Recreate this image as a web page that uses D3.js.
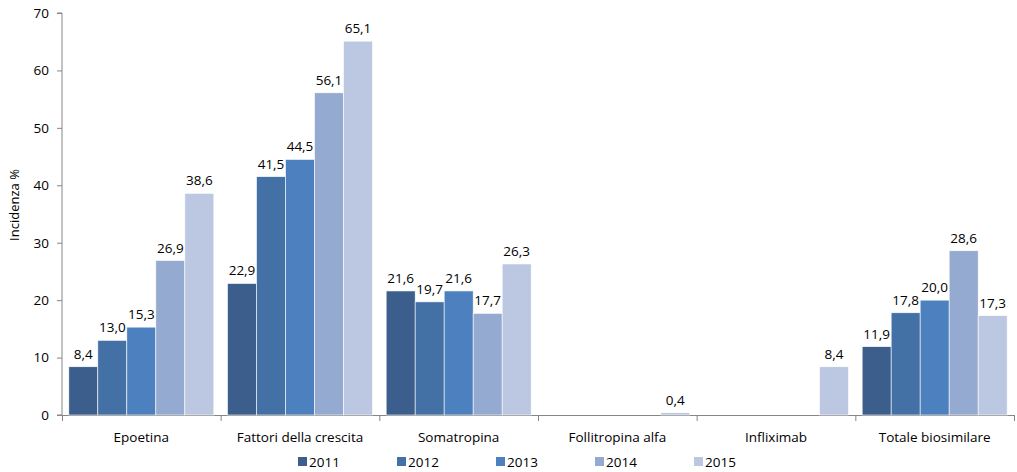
<!DOCTYPE html>
<html><head><meta charset="utf-8">
<script src="https://cdn.jsdelivr.net/npm/d3@7"></script>
<style>body{margin:0;background:#fff}svg{display:block}text{font-family:"Open Sans",sans-serif;fill:#000}</style>
</head><body><svg id="c" width="1017" height="472"></svg>
<script>
const categories = ["Epoetina","Fattori della crescita","Somatropina","Follitropina alfa","Infliximab","Totale biosimilare"];
const years = ["2011","2012","2013","2014","2015"];
const s2011 = [8.4,22.9,21.6,null,null,11.9];
const s2012 = [13.0,41.5,19.7,null,null,17.8];
const s2013 = [15.3,44.5,21.6,null,null,20.0];
const s2014 = [26.9,56.1,17.7,null,null,28.6];
const s2015 = [38.6,65.1,26.3,0.4,8.4,17.3];
const yTicks = [0,10,20,30,40,50,60,70];
const colors = ["#3B5E8C","#4371A6","#4D80BE","#95AAD1","#BCC8E2"];
const series = [s2011,s2012,s2013,s2014,s2015];

const svg = d3.select("#c");
const L=62,R=1014,T=13,B=415;
const x = d3.scaleBand().domain(categories).range([L,R]).paddingInner(0.086).paddingOuter(0.043);
const x1 = d3.scaleBand().domain(years).range([0,x.bandwidth()]);
const y = d3.scaleLinear().domain([0,70]).range([B,T]);

// y axis
const ya = svg.append("g").attr("transform",`translate(${L},0)`).call(d3.axisLeft(y).tickValues(yTicks).tickSize(5).tickFormat(d3.format("d")));
ya.select(".domain").attr("stroke","#868686").attr("d",`M-5,${T}H0V${B}H-5`);
ya.selectAll(".tick line").attr("stroke","#868686");
ya.selectAll(".tick text").attr("font-size",13.5).attr("x",-13).style("font-family","'Open Sans',sans-serif");

// x axis
const xa = svg.append("g");
xa.append("line").attr("x1",L).attr("x2",R).attr("y1",B+0.5).attr("y2",B+0.5).attr("stroke","#868686");
const step = (R-L)/categories.length;
d3.range(categories.length+1).forEach(i=>{
  xa.append("line").attr("x1",L+i*step+0.5).attr("x2",L+i*step+0.5).attr("y1",B).attr("y2",B+6).attr("stroke","#868686");
});
xa.selectAll("text.cat").data(categories).join("text").attr("class","cat")
  .attr("x",d=>x(d)+x.bandwidth()/2).attr("y",B+27).attr("text-anchor","middle").attr("font-size",13.5).text(d=>d);

// bars
series.forEach((s,si)=>{
  const g = svg.append("g");
  categories.forEach((c,ci)=>{
    const v = s[ci];
    if(v==null) return;
    const bx = x(c)+x1(years[si]);
    g.append("rect").attr("x",bx).attr("width",x1.bandwidth()).attr("y",y(v)).attr("height",B-y(v))
      .attr("fill",colors[si]).attr("stroke","#fff").attr("stroke-width",0.6);
    g.append("text").attr("x",bx+x1.bandwidth()/2).attr("y",y(v)-8).attr("text-anchor","middle").attr("font-size",13.5)
      .text(d3.format(".1f")(v).replace(".",","));
  });
});

// y title
svg.append("text").attr("transform","translate(19,205) rotate(-90)").attr("text-anchor","middle").attr("font-size",13).text("Incidenza %");

// legend
const lg = svg.append("g");
years.forEach((yr,i)=>{
  const lx = 298+i*99;
  lg.append("rect").attr("x",lx).attr("y",457).attr("width",9).attr("height",9).attr("fill",colors[i]);
  lg.append("text").attr("x",lx+11).attr("y",467).attr("font-size",13.5).text(yr);
});
</script></body></html>
